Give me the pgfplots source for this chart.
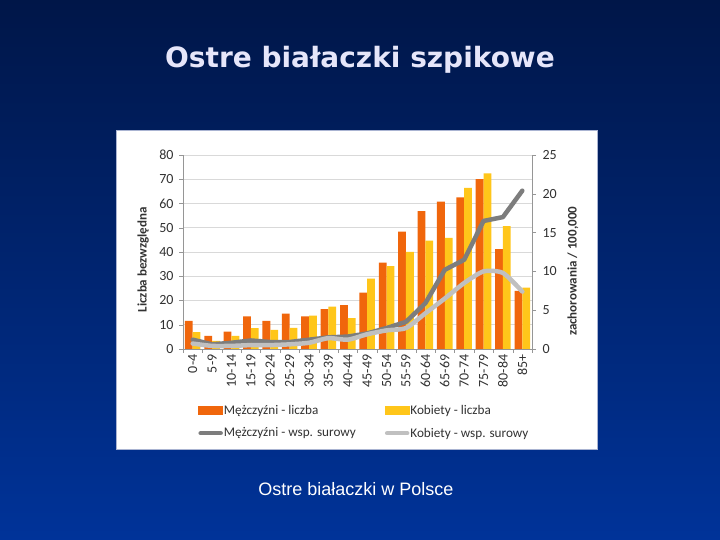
\documentclass[border=0pt]{standalone}
\usepackage{fontspec}
\setmainfont{Carlito}
\newfontfamily\titlefont{DejaVu Sans}
\newfontfamily\capfont{Liberation Sans}
\usepackage{pgfplots}
\usepackage{pgfplotstable}
\pgfplotsset{compat=1.18}

\definecolor{bgtop}{RGB}{0,22,72}
\definecolor{bgmid}{RGB}{0,40,125}
\definecolor{bgbot}{RGB}{0,51,153}
\definecolor{mbar}{RGB}{240,102,12}
\definecolor{fbar}{RGB}{255,198,26}
\definecolor{mline}{RGB}{125,125,125}
\definecolor{fline}{RGB}{192,192,192}
\definecolor{gridc}{RGB}{217,217,217}
\definecolor{axc}{RGB}{150,150,150}
\definecolor{txtc}{RGB}{50,50,50}
\definecolor{titlec}{RGB}{230,230,250}

% liczba przypadkow
\pgfplotstableread{
cat M F
0 11.6 7.0
1 5.4 3.4
2 7.2 5.4
3 13.5 8.6
4 11.6 7.9
5 14.6 8.7
6 13.5 13.8
7 16.4 17.5
8 18.1 12.7
9 23.2 29.0
10 35.6 34.2
11 48.4 40.1
12 56.9 44.7
13 60.8 45.8
14 62.5 66.4
15 70.0 72.4
16 41.2 50.7
17 24.0 25.3
}\liczba

% wsp. surowy
\pgfplotstableread{
cat M F
0 1.2 0.7
1 0.6 0.4
2 0.8 0.4
3 1.1 0.5
4 0.9 0.5
5 0.9 0.6
6 1.2 0.8
7 1.5 1.4
8 1.6 1.2
9 2.0 1.9
10 2.7 2.4
11 3.5 2.7
12 5.9 4.6
13 10.2 6.5
14 11.5 8.5
15 16.5 10.0
16 17.0 9.8
17 20.4 7.4
}\wsp

\pgfplotsset{
  common/.style={
    scale only axis, width=349pt, height=194pt,
    at={(183pt,191pt)}, anchor=south west,
    xmin=-0.5, xmax=17.5,
    tick align=outside, major tick length=4pt,
    axis line style={axc},
    tick style={axc},
    ticklabel style={font=\fontsize{14}{16}\selectfont, text=txtc},
    /pgf/number format/assume math mode=true,
    label style={font=\bfseries\fontsize{13}{15}\selectfont, text=txtc},
  }
}

\begin{document}
\begin{tikzpicture}[x=1pt,y=1pt]
  \shade[top color=bgtop, middle color=bgmid, bottom color=bgbot] (0,0) rectangle (720,540);
  \fill[white, draw={rgb,255:red,170;green,180;blue,210}, line width=1pt] (116,90) rectangle (597,409);
  \node[text=titlec, font=\titlefont\bfseries\fontsize{28}{32}\selectfont] at (360,480) {Ostre białaczki szpikowe};
  \node[text=white, font=\capfont\fontsize{18}{21}\selectfont] at (356,51) {Ostre białaczki w Polsce};

  \begin{axis}[
    common,
    ybar=0pt, bar width=7.8pt,
    ymin=0, ymax=80, ytick={0,10,...,80},
    axis y line*=left, axis x line*=bottom,
    ymajorgrids, grid style={gridc, line width=0.8pt},
    xtick={-0.5,0.5,...,17.5}, xticklabels={},
    extra x ticks={0,...,17},
    extra x tick labels={0-4,5-9,10-14,15-19,20-24,25-29,30-34,35-39,40-44,45-49,50-54,55-59,60-64,65-69,70-74,75-79,80-84,85+},
    extra x tick style={major tick length=0pt, grid=none,
      xticklabel style={rotate=90, anchor=east, xshift=-2pt}},
    yticklabel style={xshift=-2pt},
    ylabel={Liczba bezwzględna},
    ylabel style={at={(axis description cs:-0.114,0.46)}, anchor=center},
  ]
    \addplot[fill=mbar, draw=none] table[x=cat, y=M] {\liczba};
    \addplot[fill=fbar, draw=none] table[x=cat, y=F] {\liczba};
  \end{axis}

  \begin{axis}[
    common,
    ymin=0, ymax=25, ytick={0,5,...,25},
    axis y line*=right, hide x axis,
    yticklabel style={xshift=3pt},
    ylabel={zachorowania / 100,000},
    ylabel style={at={(axis description cs:1.117,0.40)}, anchor=center},
    legend columns=2,
    legend cell align=left,
    legend style={at={(axis description cs:0.035,-0.268)}, anchor=north west,
      draw=none, fill=none, font=\fontsize{13.2}{15}\selectfont, text=txtc,
      nodes={inner xsep=1pt},
      /tikz/every even column/.append style={column sep=28pt},
      row sep=8pt},
  ]
    \addlegendimage{legend image code/.code={\fill[mbar] (0pt,-4pt) rectangle (24pt,4pt);}}
    \addlegendentry{Mężczyźni - liczba}
    \addlegendimage{legend image code/.code={\fill[fbar] (0pt,-4pt) rectangle (24pt,4pt);}}
    \addlegendentry{Kobiety - liczba}
    \addplot[mline, line width=4.5pt, line join=round, line cap=round,
      legend image code/.code={\draw[mline, line width=4.5pt, line cap=round] (2pt,0pt) -- (22pt,0pt);}]
      table[x=cat, y=M] {\wsp};
    \addlegendentry{Mężczyźni - wsp. surowy}
    \addplot[fline, line width=4.5pt, line join=round, line cap=round, smooth, tension=0.4,
      legend image code/.code={\draw[fline, line width=4.5pt, line cap=round] (2pt,0pt) -- (22pt,0pt);}]
      table[x=cat, y=F] {\wsp};
    \addlegendentry{Kobiety - wsp. surowy}
  \end{axis}
\end{tikzpicture}
\end{document}
